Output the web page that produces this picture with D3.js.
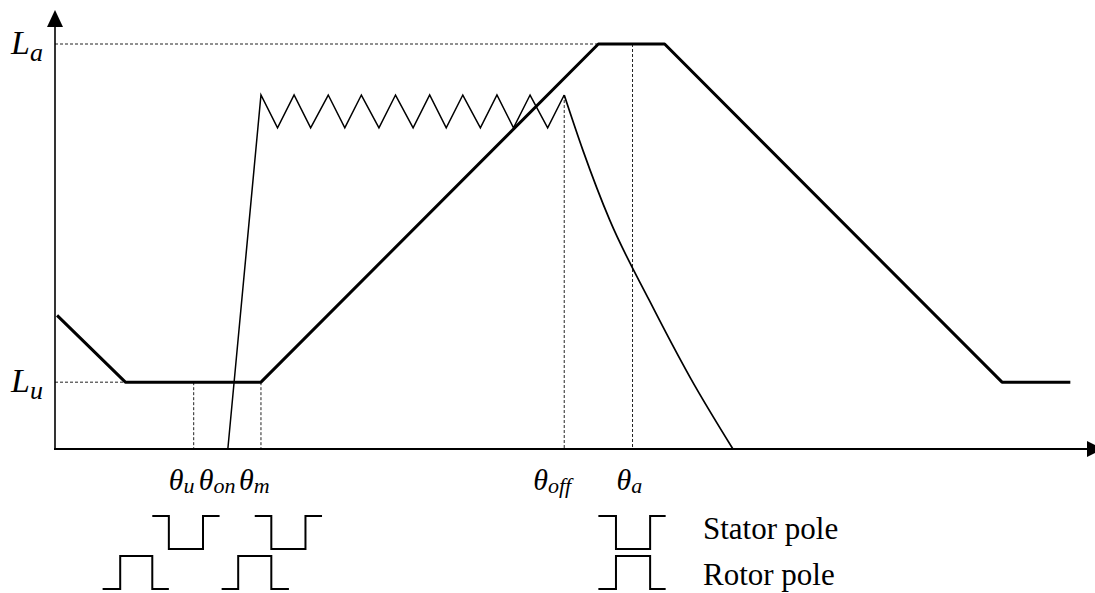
<!DOCTYPE html>
<html>
<head>
<meta charset="utf-8">
<script src="https://cdn.jsdelivr.net/npm/d3@7"></script>
<style>
  body { margin: 0; background: #fff; }
  svg { display: block; }
  text { font-family: "Liberation Serif", "Times New Roman", serif; fill: #000; }
</style>
</head>
<body>
<svg id="chart" width="1095" height="593"></svg>
<script>
// rotor angle (arbitrary units, 0..100) and level (0..100, La = 100)
var thetaL = [0.2, 6.8, 19.9, 52.5, 58.9, 91.5, 98.1];
var inductance = [33, 16.5, 16.5, 100, 100, 16.5, 16.5];

// current: rise at theta_on, hysteresis chopping, then decay after theta_off
var thetaI = [16.7, 19.9, 21.5, 23.1, 24.7, 26.4, 28.0, 29.6, 31.3, 32.9, 34.6,
              36.2, 37.8, 39.4, 41.1, 42.7, 44.3, 45.9, 47.6, 49.2];
var current = [0, 87.4, 79.3, 87.4, 79.3, 87.4, 79.3, 87.4, 79.3, 87.4, 79.3,
               87.4, 79.3, 87.4, 79.3, 87.4, 79.3, 87.4, 79.3, 87.4];
var thetaTail = [49.2, 51.0, 53.6, 57.4, 61.4, 65.5];
var currentTail = [87.4, 73.8, 56.5, 36.8, 17.5, 0];

// marked angles
var angleNames = ["u", "on", "m", "off", "a"];
var angleValues = [13.4, 16.7, 19.9, 49.2, 55.8];
var levelNames = ["u", "a"];
var levelValues = [16.5, 100];

// pole edge angles for the little stator / rotor sketches
var statorPoles = [[9.4, 11.0, 14.3, 15.9], [19.3, 20.9, 24.2, 25.8], [52.5, 54.2, 57.5, 59.0]];
var rotorPoles = [[4.6, 6.3, 9.4, 11.0], [16.1, 17.7, 20.9, 22.6], [52.5, 54.2, 57.5, 59.0]];
var poleNames = ["Stator pole", "Rotor pole"];

var svg = d3.select("#chart");

var x = d3.scaleLinear().domain([0, 100]).range([55, 1090]);
var y = d3.scaleLinear().domain([0, 100]).range([449, 44]);

var line = d3.line()
  .x(d => x(d[0]))
  .y(d => y(d[1]));

// dashed guide lines
var dash = svg.append("g")
  .attr("stroke", "#222")
  .attr("stroke-width", 1)
  .attr("stroke-dasharray", "3,2")
  .attr("fill", "none");

// horizontal guides for Lu and La
dash.append("line")
  .attr("x1", x(0)).attr("x2", x(thetaL[1]))
  .attr("y1", y(levelValues[0])).attr("y2", y(levelValues[0]));
dash.append("line")
  .attr("x1", x(0)).attr("x2", x(thetaL[3]))
  .attr("y1", y(levelValues[1])).attr("y2", y(levelValues[1]));

// vertical guides: u, m, off, a
var guideTops = [levelValues[0], levelValues[0], current[current.length - 1], levelValues[1]];
[0, 2, 3, 4].forEach(function(k, i) {
  dash.append("line")
    .attr("x1", x(angleValues[k])).attr("x2", x(angleValues[k]))
    .attr("y1", y(guideTops[i])).attr("y2", y(0));
});

// axes
svg.append("line")
  .attr("x1", x(0)).attr("y1", y(0))
  .attr("x2", x(0)).attr("y2", 24)
  .attr("stroke", "#000").attr("stroke-width", 1.6);
svg.append("path")
  .attr("d", "M" + x(0) + ",10 L" + (x(0) - 8) + ",27 L" + (x(0) + 8) + ",27 Z")
  .attr("fill", "#000");

svg.append("line")
  .attr("x1", x(0) - 1).attr("y1", y(0))
  .attr("x2", 1088).attr("y2", y(0))
  .attr("stroke", "#000").attr("stroke-width", 2);
svg.append("path")
  .attr("d", "M1103," + y(0) + " L1087," + (y(0) - 8) + " L1087," + (y(0) + 8) + " Z")
  .attr("fill", "#000");

// inductance profile
svg.append("path")
  .datum(d3.zip(thetaL, inductance))
  .attr("d", line)
  .attr("fill", "none")
  .attr("stroke", "#000")
  .attr("stroke-width", 3)
  .attr("stroke-linejoin", "round");

// current
svg.append("path")
  .datum(d3.zip(thetaI, current))
  .attr("d", line)
  .attr("fill", "none")
  .attr("stroke", "#000")
  .attr("stroke-width", 1.5);

svg.append("path")
  .datum(d3.zip(thetaTail, currentTail))
  .attr("d", line.curve(d3.curveMonotoneX))
  .attr("fill", "none")
  .attr("stroke", "#000")
  .attr("stroke-width", 1.7);

// level labels L_u, L_a
levelValues.forEach(function(v, i) {
  var t = svg.append("text")
    .attr("x", 11)
    .attr("y", y(v) + 10)
    .attr("font-size", 34)
    .attr("font-style", "italic");
  t.append("tspan").text("L");
  t.append("tspan").attr("dy", 7).attr("font-size", 26).text(levelNames[i]);
});

// angle labels
var labelShift = [-25, -29, -22, -31, -16];
angleNames.forEach(function(n, i) {
  var t = svg.append("text")
    .attr("x", x(angleValues[i]) + labelShift[i])
    .attr("y", 490)
    .attr("font-size", 30)
    .attr("font-style", "italic");
  t.append("tspan").text("\u03b8");
  t.append("tspan").attr("dy", 3).attr("font-size", 22).text(n);
});

// pole sketches
var sketch = svg.append("g")
  .attr("fill", "none")
  .attr("stroke", "#000")
  .attr("stroke-width", 2);

statorPoles.forEach(function(p) {
  var top = 516, bot = 549;
  sketch.append("path").attr("d",
    "M" + x(p[0]) + "," + top + "H" + x(p[1]) + "V" + bot +
    "H" + x(p[2]) + "V" + top + "H" + x(p[3]));
});
rotorPoles.forEach(function(p) {
  var top = 556, bot = 589;
  sketch.append("path").attr("d",
    "M" + x(p[0]) + "," + bot + "H" + x(p[1]) + "V" + top +
    "H" + x(p[2]) + "V" + bot + "H" + x(p[3]));
});

poleNames.forEach(function(n, i) {
  svg.append("text")
    .attr("x", 703)
    .attr("y", 539 + i * 46)
    .attr("font-size", 31)
    .text(n);
});
</script>
</body>
</html>
